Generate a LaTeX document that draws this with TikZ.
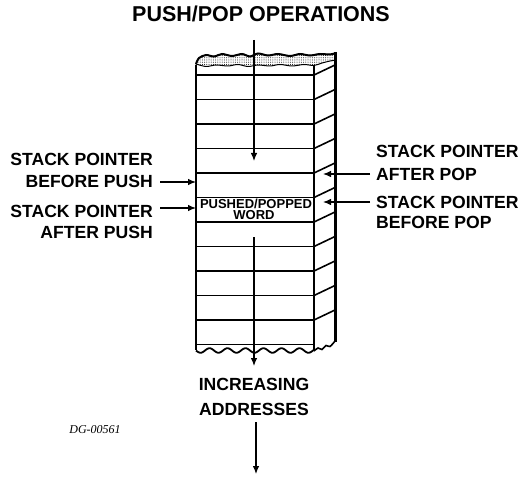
\documentclass[tikz,border=0pt]{standalone}
\usepackage{fontspec}
\setmainfont{Liberation Sans}
\newfontfamily\dgfont{Liberation Serif}
\usetikzlibrary{arrows.meta,patterns.meta}
\begin{document}
\begin{tikzpicture}[x=1pt,y=-1pt,
  frame/.style={line width=1.6pt},
  edge/.style={line width=3pt},
  arr/.style={line width=1.1pt,-{Latex[length=8pt,width=6.5pt]}},
  lbl/.style={inner sep=0pt,font=\bfseries\fontsize{17.6}{21}\selectfont},
  wordlbl/.style={inner sep=0pt,font=\bfseries\fontsize{13}{14}\selectfont},
]
\useasboundingbox (0,0) rectangle (524,478);

% title
\node[anchor=base,inner sep=0pt,font=\bfseries\fontsize{21.5}{24}\selectfont] (title) at (261,21.5) {PUSH/POP OPERATIONS};

% torn top of the stack (stippled)
\draw[line width=1pt,pattern={Dots[distance=2.2pt,radius=0.5pt]}]
  plot[smooth] coordinates {(196,64)(199,58)(206,55)(214,56.5)(222,54)(232,56)(242,54)(250,56.5)(258,53.5)(268,55.5)(278,54)(290,56)(300,54)(310,55.5)(320,54)(330,54.5)(336,53)}
  -- (336,60)
  -- plot[smooth] coordinates {(330,61)(322,63)(314,65.5)(304,64.5)(292,66)(280,64.5)(270,66)(258,65)(248,66.5)(238,64.5)(228,66)(216,65)(206,66.5)(196,64)}
  -- cycle;
\draw[line width=2pt] plot[smooth] coordinates {(196,64)(199,58)(206,55)(214,56.5)(222,54)(232,56)(242,54)(250,56.5)(258,53.5)(268,55.5)(278,54)(290,56)(300,54)(310,55.5)(320,54)(330,54.5)(336,53)};

% front face of the stack
\coordinate (ftl) at (196,65);
\coordinate (fbl) at (196,350);
\coordinate (ftr) at (314,65.5);
\coordinate (fbr) at (314,350);
\draw[frame] (ftl) -- (fbl);
\draw[frame] (ftr) -- (fbr);
\foreach \k in {0,...,11}
  \draw[frame] (196,{75+24.5*\k}) -- (314,{75+24.5*\k});

% side face
\foreach \k in {0,...,10}
  \draw[frame] (314,{75+24.5*\k}) -- (335,{65+24.5*\k});
\coordinate (etop) at (335,52);
\coordinate (ebot) at (335,342);
\draw[edge] (etop) -- (ebot);

% torn bottom
\draw[line width=1.8pt] plot[domain=196:314,samples=90,smooth] (\x,{350.5+2.3*sin(20*(\x-196))});
\draw[frame] plot[smooth] coordinates {(314,351)(318,348)(322,349.5)(326,345.5)(330,346.5)(335,341)};

% word label
\node[wordlbl,anchor=base] (pw1) at (256,208) {PUSHED/POPPED};
\node[wordlbl,anchor=base] (pw2) at (254,220) {WORD};

% flow through the stack
\coordinate (in) at (254,40);
\coordinate (inend) at (254,161);
\coordinate (out) at (254,237);
\coordinate (outend) at (254,366);
\draw[arr] (in) -- (inend);
\draw[arr] (out) -- (outend);

% left labels
\node[lbl,anchor=base east] (bp1) at (153,166) {STACK POINTER};
\node[lbl,anchor=base east] (bp2) at (153,188) {BEFORE PUSH};
\node[lbl,anchor=base east] (ap1) at (153,218) {STACK POINTER};
\node[lbl,anchor=base east] (ap2) at (153,238) {AFTER PUSH};
\coordinate (bpa) at (160,182);
\coordinate (bpt) at (196,182);
\coordinate (apa) at (160,208);
\coordinate (apt) at (196,208);
\draw[arr] (bpa) -- (bpt);
\draw[arr] (apa) -- (apt);

% right labels
\node[lbl,anchor=base west] (aq1) at (376,158) {STACK POINTER};
\node[lbl,anchor=base west] (aq2) at (376,181) {AFTER POP};
\node[lbl,anchor=base west] (bq1) at (376,208) {STACK POINTER};
\node[lbl,anchor=base west] (bq2) at (376,229) {BEFORE POP};
\coordinate (aqa) at (370,174);
\coordinate (aqt) at (323,174);
\coordinate (bqa) at (370,202);
\coordinate (bqt) at (323,202);
\draw[arr] (aqa) -- (aqt);
\draw[arr] (bqa) -- (bqt);

% direction of addresses
\node[lbl,anchor=base] (inc) at (254,390) {INCREASING};
\node[lbl,anchor=base] (addr) at (254,415) {ADDRESSES};
\coordinate (dira) at (256,422);
\coordinate (dirb) at (256,474);
\draw[arr] (dira) -- (dirb);

% drawing number
\node[anchor=base,inner sep=0pt,font=\dgfont\itshape\fontsize{12}{14}\selectfont] (dg) at (95,433) {DG-00561};
\end{tikzpicture}
\end{document}
